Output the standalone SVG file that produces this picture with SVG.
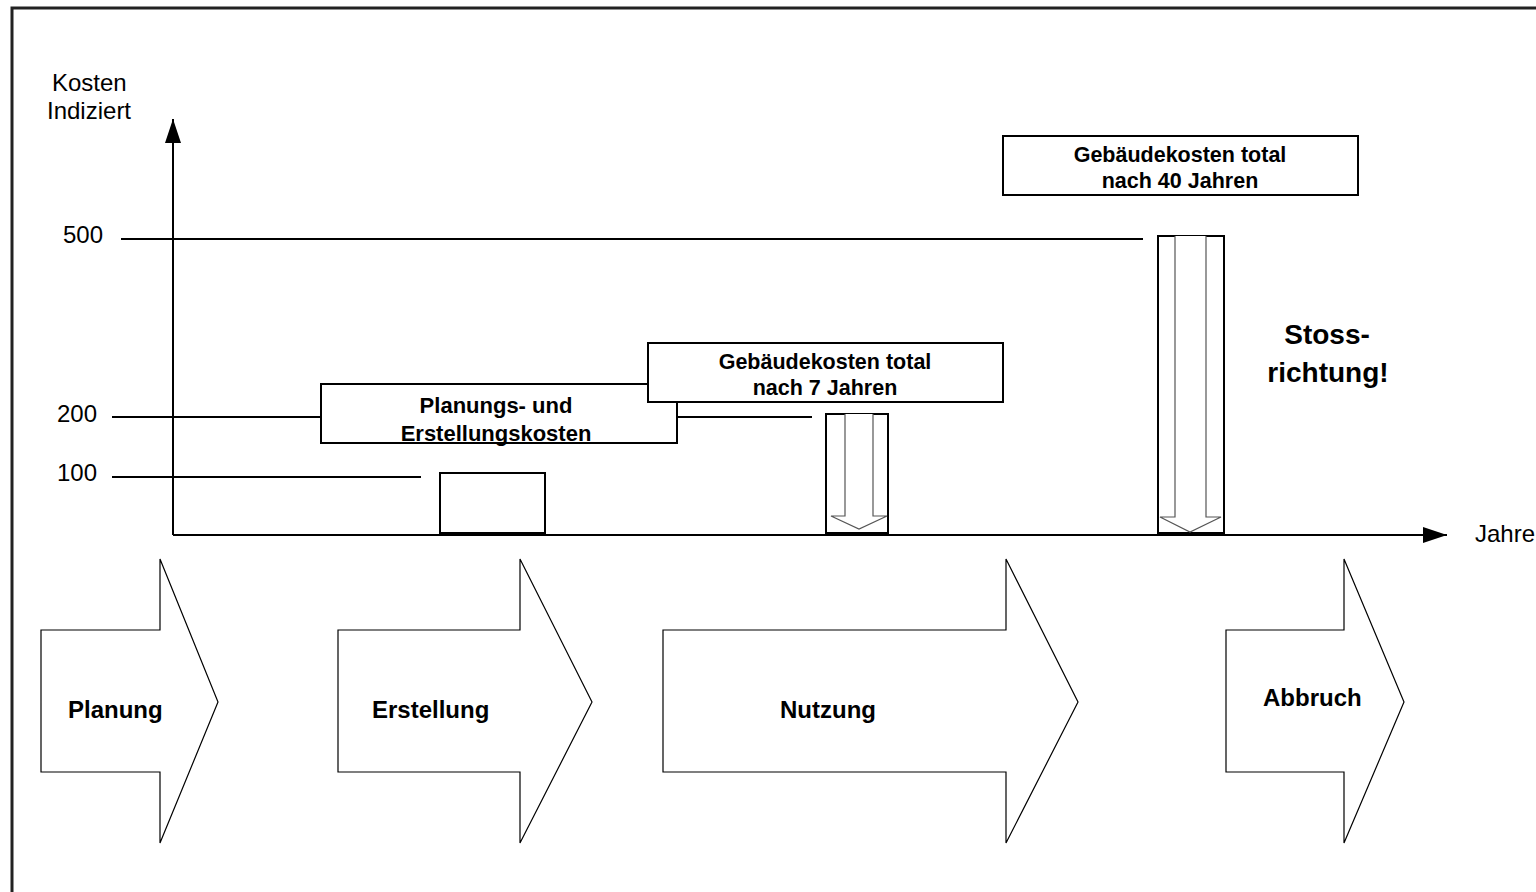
<svg xmlns="http://www.w3.org/2000/svg" width="1536" height="892" viewBox="0 0 1536 892">
<style>
.ax{stroke:#000;stroke-width:2;fill:none}
.box{fill:#fff;stroke:#000;stroke-width:2}
.ph{fill:#fff;stroke:#000;stroke-width:1.2}
.ga{fill:#fff;stroke:#555;stroke-width:1.2}
.t{font-family:"Liberation Sans",Arial,sans-serif;fill:#000}
.b{font-weight:bold}
</style>
<defs>
<marker id="ah" markerWidth="24" markerHeight="16" refX="24" refY="8" orient="auto" markerUnits="userSpaceOnUse">
<path d="M0,0 L24,8 L0,16 Z" fill="#000"/>
</marker>
</defs>
<rect width="1536" height="892" fill="#fff"/>
<rect x="12" y="8" width="1600" height="960" fill="none" stroke="#222" stroke-width="3"/>
<g id="connectors">
<line class="ax" x1="173" y1="535" x2="173" y2="119" marker-end="url(#ah)"/>
<line class="ax" x1="173" y1="535" x2="1447" y2="535" marker-end="url(#ah)"/>
<line class="ax" x1="121" y1="239" x2="1143" y2="239"/>
<line class="ax" x1="112" y1="417" x2="321" y2="417"/>
<line class="ax" x1="677" y1="417" x2="812" y2="417"/>
<line class="ax" x1="112" y1="477" x2="421" y2="477"/>
</g>
<g id="axis-labels">
<text class="t" x="52" y="91" font-size="24">Kosten</text>
<text class="t" x="47" y="119" font-size="24">Indiziert</text>
<text class="t" x="63" y="243" font-size="24">500</text>
<text class="t" x="57" y="422" font-size="24">200</text>
<text class="t" x="57" y="481" font-size="24">100</text>
<text class="t" x="1475" y="542" font-size="24">Jahre</text>
</g>
<g id="bar100">
<rect class="box" x="440" y="473" width="105" height="60"/>
</g>
<g id="planungskosten">
<rect class="box" x="321" y="384" width="356" height="59"/>
<text class="t b" x="496" y="413" font-size="22" text-anchor="middle">Planungs- und</text>
<text class="t b" x="496" y="441" font-size="22" text-anchor="middle">Erstellungskosten</text>
</g>
<g id="gebaeude7">
<rect class="box" x="648" y="343" width="355" height="59"/>
<text class="t b" x="825" y="369" font-size="21.5" text-anchor="middle">Gebäudekosten total</text>
<text class="t b" x="825" y="395" font-size="21.5" text-anchor="middle">nach 7 Jahren</text>
</g>
<g id="bar7">
<rect class="box" x="826" y="414" width="62" height="119"/>
<path class="ga" d="M845,414 L845,516 L831,516 L859,529 L887,516 L873,516 L873,414"/>
</g>
<g id="gebaeude40">
<rect class="box" x="1003" y="136" width="355" height="59"/>
<text class="t b" x="1180" y="162" font-size="21.5" text-anchor="middle">Gebäudekosten total</text>
<text class="t b" x="1180" y="188" font-size="21.5" text-anchor="middle">nach 40 Jahren</text>
</g>
<g id="bar40">
<rect class="box" x="1158" y="236" width="66" height="297"/>
<path class="ga" d="M1175,236 L1175,517 L1160,517 L1190,532 L1221,517 L1206,517 L1206,236"/>
</g>
<g id="stossrichtung">
<text class="t b" x="1327" y="344" font-size="28" text-anchor="middle">Stoss-</text>
<text class="t b" x="1328" y="382" font-size="28" text-anchor="middle">richtung!</text>
</g>
<g id="planung">
<path class="ph" d="M41,630 L160,630 L160,559 L218,702 L160,843 L160,772 L41,772 Z"/>
<text class="t b" x="68" y="718" font-size="24">Planung</text>
</g>
<g id="erstellung">
<path class="ph" d="M338,630 L520,630 L520,559 L592,702 L520,843 L520,772 L338,772 Z"/>
<text class="t b" x="372" y="718" font-size="24">Erstellung</text>
</g>
<g id="nutzung">
<path class="ph" d="M663,630 L1006,630 L1006,559 L1078,702 L1006,843 L1006,772 L663,772 Z"/>
<text class="t b" x="780" y="718" font-size="24">Nutzung</text>
</g>
<g id="abbruch">
<path class="ph" d="M1226,630 L1344,630 L1344,559 L1404,702 L1344,843 L1344,772 L1226,772 Z"/>
<text class="t b" x="1263" y="706" font-size="24">Abbruch</text>
</g>
</svg>
